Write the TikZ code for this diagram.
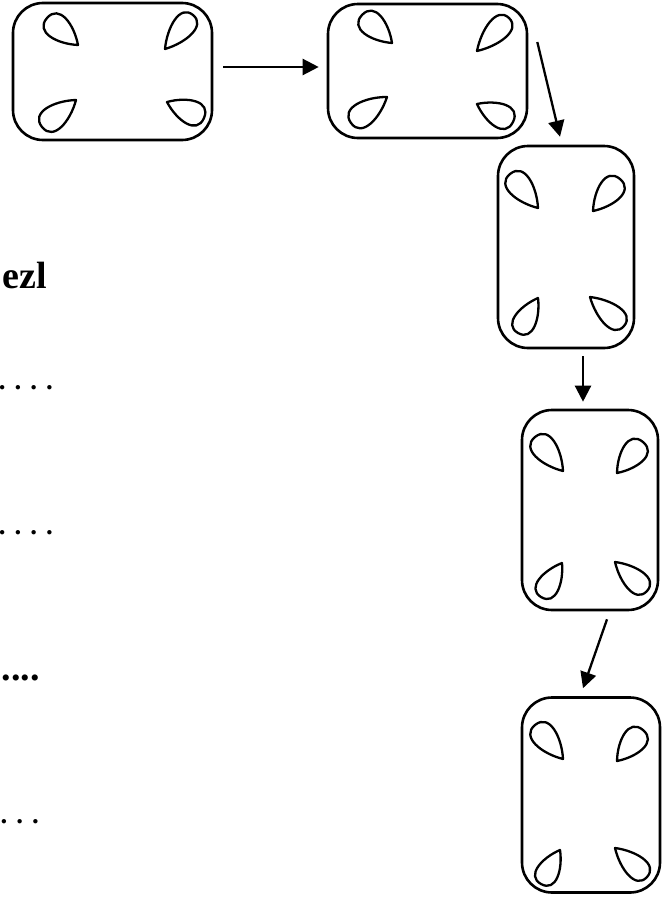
\documentclass[tikz,border=0pt]{standalone}
\usepackage{fontspec}
\setmainfont{Liberation Serif}
\usetikzlibrary{calc,arrows.meta}
\tikzset{
  card/.style={draw=black, line width=2.6pt, rounded corners=30pt, inner sep=0pt, fill=white},
  dropline/.style={draw=black, line width=2.3pt, line join=round},
  linkarrow/.style={draw=black, line width=2.3pt, -{Triangle[length=16pt,width=16pt]}},
  leftlabel/.style={anchor=base east, inner sep=0pt, text=black}
}
\newcommand\mydrop[3]{%
  \draw[dropline] (#1) .. controls ($(#1)!0.4!(#2)!1.0*#3!90:(#2)$) and ($(#2)!1.45*#3!-90:(#1)$) .. (#2)
    .. controls ($(#2)!1.45*#3!90:(#1)$) and ($(#1)!0.4!(#2)!1.0*#3!-90:(#2)$) .. (#1) -- cycle;}
\begin{document}
\begin{tikzpicture}[x=1pt,y=-1pt]
\useasboundingbox (0,0) rectangle (670,897);
% boxes
\node[card, minimum width=199pt, minimum height=137pt] (box1) at (112.5,71.5) {};
\node[card, minimum width=199pt, minimum height=134pt] (box2) at (427.5,71) {};
\node[card, minimum width=136pt, minimum height=202pt] (box3) at (566,247) {};
\node[card, minimum width=136pt, minimum height=200pt] (box4) at (590,510) {};
\node[card, minimum width=138pt, minimum height=195pt] (box5) at (591,795) {};
% drops box1
\mydrop{78,45}{47,18}{13pt}
\mydrop{165,49}{193,15}{12pt}
\mydrop{76,100}{42,127}{13pt}
\mydrop{167,102}{204,118}{13pt}
% drops box2
\mydrop{392,43}{362,15}{13pt}
\mydrop{477,51}{509,18}{12pt}
\mydrop{387,97}{351,123}{13pt}
\mydrop{477,104}{513,122}{13pt}
% drops box3
\mydrop{538,208}{510,174}{13pt}
\mydrop{593,211}{620,179}{13pt}
\mydrop{538,298}{518,333}{12pt}
\mydrop{590,297}{624,326}{12pt}
% drops box4
\mydrop{563,471}{535,437}{13pt}
\mydrop{617,473}{643,442}{13pt}
\mydrop{562,563}{541,597}{12pt}
\mydrop{615,562}{647,591}{12pt}
% drops box5
\mydrop{563,759}{535,725}{13pt}
\mydrop{617,761}{643,730}{13pt}
\mydrop{560,850}{541,884}{12pt}
\mydrop{615,848}{647,877}{12pt}
% arrows
\draw[linkarrow] ($(box1.east)+(10,-4.5)$) -- ($(box2.west)+(-8,-4)$);
\draw[linkarrow] ($(box2.east)+(9,-29)$) -- ($(box3.north)+(-6,-8)$);
\draw[linkarrow] ($(box3.south)+(17,7)$) -- ($(box4.north)+(-7,-7)$);
\draw[linkarrow] ($(box4.south)+(17,8)$) -- ($(box5.north)+(-8,-8)$);
% left texts
\node[leftlabel, font=\bfseries\fontsize{38}{38}\selectfont] (t0) at (47,288) {ezl};
\node[leftlabel, font=\bfseries\fontsize{27}{27}\selectfont] (t1) at (53,389.5) {. . . .};
\node[leftlabel, font=\bfseries\fontsize{27}{27}\selectfont] (t2) at (53,534.5) {. . . .};
\node[leftlabel, font=\bfseries\fontsize{38}{38}\selectfont] (t3) at (40,680) {....};
\node[leftlabel, font=\bfseries\fontsize{27}{27}\selectfont] (t4) at (39,823.5) {. . .};
\end{tikzpicture}
\end{document}
